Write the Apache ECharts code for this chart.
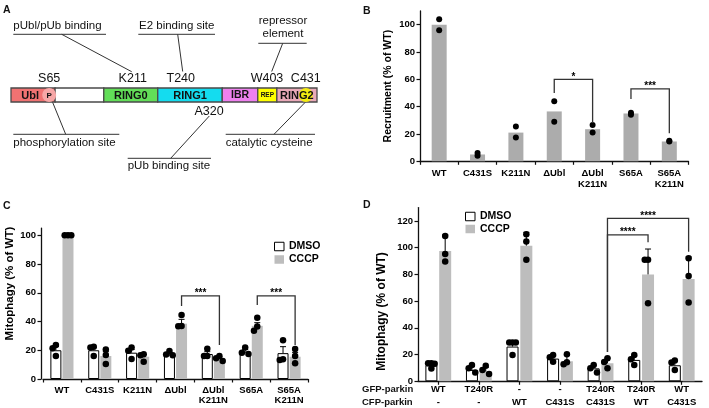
<!DOCTYPE html>
<html><head><meta charset="utf-8">
<script src="https://cdn.jsdelivr.net/npm/echarts@6/dist/echarts.min.js"></script>
<style>html,body{margin:0;padding:0;background:#fff}#c{width:709px;height:408px}</style>
</head><body><div id="c"></div>
<script>
// ---------- Panel A: domain map (positions along drawn bar, residue-like units) ----------
const domainNames = ['Ubl', '', 'RING0', 'RING1', 'IBR', 'REP', 'RING2'];
const domainStart = [0, 67, 141, 223, 321, 375, 404];
const domainEnd   = [67, 141, 223, 321, 375, 404, 465];
const siteNames = ['S65', 'K211', 'T240', 'W403', 'C431', 'A320'];
const sitePos   = [58, 185, 258, 389, 448, 301];
const siteAbove = [1, 1, 1, 1, 1, 0];

// ---------- Panel B ----------
const catB = ['WT', 'C431S', 'K211N', 'ΔUbl', 'ΔUbl\nK211N', 'S65A', 'S65A\nK211N'];
const barB = [100, 5, 21, 36.5, 23.5, 35, 14.5];
const dotsB = [[104, 96], [6, 4], [25.5, 17.5], [44, 29], [26.5, 21], [35.5, 34], [15, 14.5]];
const sigB = [[3, 4, 60, 50, 28], [5, 6, 53, 45.6, 20.6]];
const sigBLabels = ['*', '***'];
const ticksB = [0, 20, 40, 60, 80, 100];

// ---------- Panel C ----------
const catC = ['WT', 'C431S', 'K211N', 'ΔUbl', 'ΔUbl\nK211N', 'S65A', 'S65A\nK211N'];
const dmsoC = [20, 20, 18.3, 17, 17.4, 19, 18];
const cccpC = [100, 16, 15.5, 38.5, 14.5, 37, 15.5];
const dmsoErrC = [22.6, 22, 20.5, 18.5, 19, 20.5, 22.5];
const cccpErrC = [100, 19, 17, 41.5, 15.5, 39.2, 18.5];
const dmsoDotsC = [[23.6, 21.4, 16], [22.5, 22, 16], [22, 19.7, 14], [19.5, 17, 16.5], [21, 16, 16], [22, 18.3, 17.4], [27, 13.7, 13.2]];
const cccpDotsC = [[100, 100, 100], [20.6, 16.7, 10.4], [17.2, 16.5, 12], [44.5, 36.9, 36.7], [16, 14.5, 12.5], [42.7, 36.5, 33.5], [20.9, 16, 10.9]];
const sigC = [[3, 4, 57.8, 50.8, 23.7], [5, 6, 57.8, 51.5, 23.7]];
const sigCLabels = ['***', '***'];
const ticksC = [0, 20, 40, 60, 80, 100];

// ---------- Panel D ----------
const catD = ['WT\n-', 'T240R\n-', '-\nWT', '-\nC431S', 'T240R\nC431S', 'T240R\nWT', 'WT\nC431S'];
const dmsoD = [12, 8.5, 26, 17, 9.7, 16, 12];
const cccpD = [97.6, 7.5, 101.5, 15, 13.5, 80, 76.5];
const dmsoErrD = [13.5, 11, 29, 19, 12, 19, 15];
const cccpErrD = [109.5, 10.5, 111.5, 19.5, 17.5, 99, 93];
const dmsoDotsD = [[13.5, 13.5, 13.2, 9.5], [12.2, 9.7, 6.5], [29, 29, 29, 19.7], [19.7, 18, 14.7], [12.2, 9.7, 6.5], [19.7, 16.5, 12.2], [15.5, 14, 8.5]];
const cccpDotsD = [[108.8, 95.3, 89.6], [11.7, 8.5, 5.5], [110.1, 104.6, 91], [20.2, 14.2, 12.7], [17.2, 14.5, 9.7], [91, 91, 58.4], [92.1, 78.9, 59]];
const sigD = [[4, 5, 109.6, 22, 104], [4, 6, 122, 22, 97]];
const sigDLabels = ['****', '****'];
const ticksD = [0, 20, 40, 60, 80, 100, 120];

// ---------- styling ----------
const FONT = '"Liberation Sans", Arial, Helvetica, sans-serif';
const domainColors = ['#f07272', '#ffffff', '#62de58', '#14dcef', '#ee80ee', '#ffff00', '#e9a9b8'];
const GRAY_B = '#acacac', GRAY = '#bdbdbd';

const chart = echarts.init(document.getElementById('c'), null, {renderer: 'canvas'});

// simple beeswarm layout: spread overlapping dots sideways
function beeswarm(vals, pxPerUnit, step, minDist) {
  const placed = [];
  const cands = [0, -step, step];
  return vals.map(v => {
    const y = v * pxPerUnit;
    let best = 0, bestD = -1;
    for (const dx of cands) {
      const d = placed.length ? Math.min(...placed.map(p => Math.hypot(p[0] - dx, p[1] - y))) : Infinity;
      if (d >= minDist) { best = dx; bestD = d; break; }
      if (d > bestD) { bestD = d; best = dx; }
    }
    placed.push([best, y]);
    return best;
  });
}
function dotData(groups, barOffset, pxPerUnit, swarm) {
  const out = [];
  groups.forEach((vals, i) => {
    const offs = swarm ? beeswarm(vals, pxPerUnit, 3.3, 5.5) : vals.map(() => 0);
    vals.forEach((v, k) => out.push([i, v, barOffset + offs[k]]));
  });
  return out;
}
function dotRender(size) {
  return (params, api) => {
    const p = api.coord([api.value(0), api.value(1)]);
    return {type: 'circle', shape: {cx: p[0] + api.value(2), cy: p[1], r: size / 2}, style: {fill: '#000'}};
  };
}
function errRender(params, api) {
  const c = api.value(0), m = api.value(1), t = api.value(2), dx = api.value(3);
  const p0 = api.coord([c, m]), p1 = api.coord([c, t]);
  const x = p0[0] + dx;
  return {type: 'group', children: [
    {type: 'line', shape: {x1: x, y1: p0[1], x2: x, y2: p1[1]}, style: {stroke: '#000', lineWidth: 1}},
    {type: 'line', shape: {x1: x - 3, y1: p1[1], x2: x + 3, y2: p1[1]}, style: {stroke: '#000', lineWidth: 1}}
  ]};
}
function bracketRender(labels, dx) {
  return (params, api) => {
    const l = api.value(0), r = api.value(1);
    const a = api.coord([l, api.value(3)]), b = api.coord([l, api.value(2)]);
    const c = api.coord([r, api.value(2)]), d = api.coord([r, api.value(4)]);
    return {type: 'group', children: [
      {type: 'polyline', shape: {points: [[a[0] + dx, a[1]], [b[0] + dx, b[1]], [c[0] + dx, c[1]], [d[0] + dx, d[1]]]},
        style: {stroke: '#333', lineWidth: 1.3, fill: 'none'}},
      {type: 'text', style: {text: labels[params.dataIndex], x: (b[0] + c[0]) / 2 + dx, y: b[1] - 2.5,
        align: 'center', verticalAlign: 'middle', font: 'bold 10px ' + FONT, fill: '#000'}}
    ]};
  };
}
function errData(means, tops, off) { return means.map((m, i) => [i, m, tops[i], off]); }

const axisLineStyle = {lineStyle: {color: '#111', width: 1.3}};
function catAxis(grid, data, margin, lh, align) {
  return {type: 'category', gridIndex: grid, data: data,
    axisLine: axisLineStyle, axisTick: {show: true, length: 3.5, alignWithLabel: !!align, lineStyle: {color: '#111', width: 1.2}},
    axisLabel: {interval: 0, margin: margin, lineHeight: lh, fontSize: 9.5, fontWeight: 'bold', color: '#000', fontFamily: FONT},
    splitLine: {show: false}};
}
function valAxis(grid, max, ticks, name, nameSize, nameGap, namePad, offset) {
  return {type: 'value', gridIndex: grid, min: 0, max: max, interval: 20, offset: offset || 0,
    axisLine: {show: true, lineStyle: {color: '#111', width: 1.3}},
    axisTick: {show: true, length: 3.5, customValues: ticks, lineStyle: {color: '#111', width: 1.2}},
    axisLabel: {customValues: ticks, margin: 5, fontSize: 9.5, fontWeight: 'bold', color: '#000', fontFamily: FONT},
    splitLine: {show: false},
    name: name, nameLocation: 'middle', nameGap: nameGap,
    nameTextStyle: {fontSize: nameSize, fontWeight: 'bold', color: '#000', fontFamily: FONT, padding: namePad || 0}};
}

// bar geometry for grouped panels
const BW_C = 11, GAP_C = 1.1, BW_D = 12, GAP_D = 1.8;
const offC = (BW_C + GAP_C) / 2, offD = (BW_D + GAP_D) / 2;
const pxC = 150.9 / 105, pxD = 173.7 / 130;

const domainData = domainStart.map((s, i) => [s, domainEnd[i]]);
const markerData = [[sitePos[0], 0], [sitePos[4], 1]];

const textStyle = (t, x, y, size, opts) => Object.assign({type: 'text', x: x, y: y,
  style: {text: t, font: (opts && opts.bold ? 'bold ' : '') + size + 'px ' + FONT, fill: '#111',
    align: (opts && opts.align) || 'left', verticalAlign: 'middle'}});
const seg = (x1, y1, x2, y2) => ({type: 'line', shape: {x1, y1, x2, y2}, style: {stroke: '#333', lineWidth: 1}});

const legendCommon = {data: ['DMSO', 'CCCP'], orient: 'vertical', icon: 'rect', itemWidth: 9.5, itemHeight: 8.5,
  itemStyle: {borderWidth: 1}, textStyle: {fontSize: 10.5, fontWeight: 'bold', color: '#000', fontFamily: FONT}, selectedMode: false};

const option = {
  animation: false,
  backgroundColor: '#fff',
  textStyle: {fontFamily: FONT},
  grid: [
    {left: 11, top: 88, width: 306, height: 14, outerBoundsMode: 'none'},
    {left: 420, top: 11, width: 268.5, height: 150.3, outerBoundsMode: 'none'},
    {left: 43, top: 228.1, width: 265, height: 150.9, outerBoundsMode: 'none'},
    {left: 418, top: 207.6, width: 284, height: 173.7, outerBoundsMode: 'none'}
  ],
  xAxis: [
    {type: 'value', gridIndex: 0, min: 0, max: 465, show: false},
    catAxis(1, catB, 7, 11, false),
    catAxis(2, catC, 7, 9.5, false),
    catAxis(3, catD, 1.5, 13, true)
  ],
  yAxis: [
    {type: 'value', gridIndex: 0, min: 0, max: 1, show: false},
    valAxis(1, 110, ticksB, 'Recruitment (% of WT)', 10.5, 26),
    valAxis(2, 105, ticksC, 'Mitophagy (% of WT)', 11.5, 21, [0, 0, 0, 40], 2),
    valAxis(3, 130, ticksD, 'Mitophagy (% of WT)', 12, 30, [0, 34, 0, 0])
  ],
  legend: [
    Object.assign({left: 269, top: 236, itemGap: 2}, legendCommon),
    Object.assign({left: 460, top: 206, itemGap: 1.5}, legendCommon)
  ],
  series: [
    // ----- A -----
    {type: 'custom', xAxisIndex: 0, yAxisIndex: 0, z: 2, data: domainData, encode: {x: [0, 1]},
      renderItem: (params, api) => {
        const p0 = api.coord([api.value(0), 1]), p1 = api.coord([api.value(1), 0]);
        return {type: 'rect', shape: {x: p0[0], y: p0[1], width: p1[0] - p0[0], height: p1[1] - p0[1]},
          style: {fill: domainColors[params.dataIndex], stroke: '#4a4a4a', lineWidth: 1.3}};
      }},
    {type: 'custom', xAxisIndex: 0, yAxisIndex: 0, z: 3, data: markerData, encode: {x: 0},
      renderItem: (params, api) => {
        const top = api.coord([api.value(0), 1]), bot = api.coord([api.value(0), 0]);
        const r = (bot[1] - top[1]) / 2;
        const isP = api.value(1) === 0;
        return {type: 'group', children: [
          {type: 'circle', shape: {cx: top[0], cy: top[1] + r, r: r}, style: {fill: isP ? '#f7a7a7' : '#f3ec12'}},
          isP ? {type: 'text', style: {text: 'P', x: top[0], y: top[1] + r + 0.5, align: 'center', verticalAlign: 'middle',
            font: 'bold 8px ' + FONT, fill: '#111'}} : {type: 'group', children: []}
        ]};
      }},
    {type: 'custom', xAxisIndex: 0, yAxisIndex: 0, z: 4, data: domainData, encode: {x: [0, 1]},
      renderItem: (params, api) => {
        const i = params.dataIndex;
        const s = api.value(0), e = api.value(1);
        const cx = i === 0 ? (s + sitePos[0]) / 2 : (s + e) / 2;
        const p = api.coord([cx, 0.5]);
        return {type: 'text', style: {text: domainNames[i], x: p[0], y: p[1] + 0.5, align: 'center', verticalAlign: 'middle',
          font: 'bold ' + (domainNames[i] === 'REP' ? 6.5 : (domainNames[i] === 'IBR' ? 10.5 : 11)) + 'px ' + FONT, fill: '#111'}};
      }},
    {type: 'custom', xAxisIndex: 0, yAxisIndex: 0, z: 4, data: sitePos.map((p, i) => [p, siteAbove[i]]), encode: {x: 0},
      renderItem: (params, api) => {
        const above = api.value(1) === 1;
        const p = api.coord([api.value(0), above ? 1 : 0]);
        return {type: 'text', style: {text: siteNames[params.dataIndex], x: p[0], y: above ? p[1] - 9 : p[1] + 10,
          align: 'center', verticalAlign: 'middle', font: '12.5px ' + FONT, fill: '#111'}};
      }},
    // ----- B -----
    {type: 'bar', name: 'B', xAxisIndex: 1, yAxisIndex: 1, data: barB, barWidth: 15, itemStyle: {color: GRAY_B}},
    {type: 'custom', xAxisIndex: 1, yAxisIndex: 1, z: 5, data: dotData(dotsB, 0, 1, false), encode: {x: 0, y: 1},
      renderItem: dotRender(6)},
    {type: 'custom', xAxisIndex: 1, yAxisIndex: 1, z: 5, data: sigB, encode: {x: [0, 1], y: 2},
      renderItem: bracketRender(sigBLabels, 0)},
    // ----- C -----
    {type: 'bar', name: 'DMSO', xAxisIndex: 2, yAxisIndex: 2, data: dmsoC, barWidth: BW_C, barGap: (GAP_C / BW_C * 100) + '%',
      itemStyle: {color: '#fff', borderColor: '#000', borderWidth: 1}},
    {type: 'bar', name: 'CCCP', xAxisIndex: 2, yAxisIndex: 2, data: cccpC, barWidth: BW_C, itemStyle: {color: GRAY}},
    {type: 'custom', xAxisIndex: 2, yAxisIndex: 2, z: 4, data: errData(dmsoC, dmsoErrC, -offC), encode: {x: 0, y: 2}, renderItem: errRender},
    {type: 'custom', xAxisIndex: 2, yAxisIndex: 2, z: 4, data: errData(cccpC, cccpErrC, offC), encode: {x: 0, y: 2}, renderItem: errRender},
    {type: 'custom', xAxisIndex: 2, yAxisIndex: 2, z: 5, data: dotData(dmsoDotsC, -offC, pxC, true), encode: {x: 0, y: 1}, renderItem: dotRender(6.5)},
    {type: 'custom', xAxisIndex: 2, yAxisIndex: 2, z: 5, data: dotData(cccpDotsC, offC, pxC, true), encode: {x: 0, y: 1}, renderItem: dotRender(6.5)},
    {type: 'custom', xAxisIndex: 2, yAxisIndex: 2, z: 5, data: sigC, encode: {x: [0, 1], y: 2}, renderItem: bracketRender(sigCLabels, offC)},
    // ----- D -----
    {type: 'bar', name: 'DMSO', xAxisIndex: 3, yAxisIndex: 3, data: dmsoD, barWidth: BW_D, barGap: (GAP_D / BW_D * 100) + '%',
      itemStyle: {color: '#fff', borderColor: '#000', borderWidth: 1}},
    {type: 'bar', name: 'CCCP', xAxisIndex: 3, yAxisIndex: 3, data: cccpD, barWidth: BW_D, itemStyle: {color: GRAY}},
    {type: 'custom', xAxisIndex: 3, yAxisIndex: 3, z: 4, data: errData(dmsoD, dmsoErrD, -offD), encode: {x: 0, y: 2}, renderItem: errRender},
    {type: 'custom', xAxisIndex: 3, yAxisIndex: 3, z: 4, data: errData(cccpD, cccpErrD, offD), encode: {x: 0, y: 2}, renderItem: errRender},
    {type: 'custom', xAxisIndex: 3, yAxisIndex: 3, z: 5, data: dotData(dmsoDotsD, -offD, pxD, true), encode: {x: 0, y: 1}, renderItem: dotRender(6.5)},
    {type: 'custom', xAxisIndex: 3, yAxisIndex: 3, z: 5, data: dotData(cccpDotsD, offD, pxD, true), encode: {x: 0, y: 1}, renderItem: dotRender(6.5)},
    {type: 'custom', xAxisIndex: 3, yAxisIndex: 3, z: 5, data: sigD, encode: {x: [0, 1], y: 2}, renderItem: bracketRender(sigDLabels, offD)}
  ],
  graphic: [
    textStyle('A', 3, 10.5, 10.5, {bold: true}),
    textStyle('B', 363, 10.7, 10.5, {bold: true}),
    textStyle('C', 3, 206, 10.5, {bold: true}),
    textStyle('D', 363, 205.5, 10.5, {bold: true}),
    // panel A annotations
    textStyle('pUbl/pUb binding', 13.3, 26, 11.5),
    seg(13.3, 34.3, 106, 34.3), seg(61.7, 34.3, 131.7, 71.7),
    textStyle('E2 binding site', 176.7, 26, 11.5, {align: 'center'}),
    seg(138.3, 34.3, 215, 34.3), seg(177.7, 34.3, 182.7, 71.5),
    textStyle('repressor', 283, 20.7, 11.5, {align: 'center'}),
    textStyle('element', 283, 34, 11.5, {align: 'center'}),
    seg(258.3, 43.3, 306.7, 43.3), seg(282.7, 43.3, 271.7, 71.5),
    textStyle('phosphorylation site', 13.3, 142.7, 11.5),
    seg(13.3, 134.3, 119.3, 134.3), seg(51.7, 100, 65.7, 134.3),
    textStyle('catalytic cysteine', 225.7, 142.7, 11.5),
    seg(225.7, 134.3, 315, 134.3), seg(306, 101.5, 274, 134.3),
    textStyle('pUb binding site', 127.7, 166, 11.5),
    seg(127.7, 158.3, 211, 158.3), seg(209.3, 116, 170.7, 158.3),
    // panel D row titles
    textStyle('GFP-parkin', 362, 389, 9.5, {bold: true}),
    textStyle('CFP-parkin', 362, 402, 9.5, {bold: true})
  ]
};
chart.setOption(option);
</script>
</body></html>
